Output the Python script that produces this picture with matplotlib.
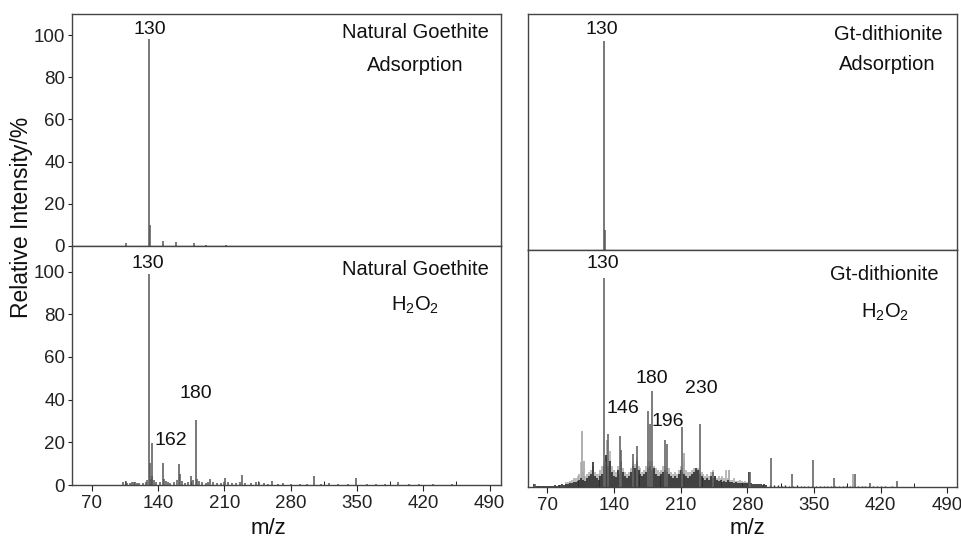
import numpy as np
import matplotlib
matplotlib.use("Agg")
import matplotlib.pyplot as plt
from matplotlib.ticker import MultipleLocator

plt.rcParams['font.family'] = ['Liberation Sans', 'DejaVu Sans']
plt.rcParams['mathtext.default'] = 'regular'

# ---- Natural Goethite, adsorption ----
ng_ads_mz = [106, 130, 131, 145, 159, 178, 191, 212]
ng_ads_int = [1.5, 98, 10, 2.5, 1.8, 1.2, 0.6, 0.5]

# ---- Natural Goethite, H2O2 ----
ng_h2o2_mz = [103, 106, 107, 110, 112, 114, 116, 118, 120, 124,
              127, 128, 130, 131, 132, 133, 134, 136, 138, 142,
              145, 146, 148, 150, 153, 157, 160, 162, 163, 165,
              168, 172, 175, 177, 180, 181, 183, 186, 190, 193,
              195, 198, 202, 206, 209, 211, 214, 218, 222, 226,
              229, 232, 238, 243, 246, 252, 256, 260, 266, 272,
              280, 290, 297, 305, 312, 320, 330, 340, 349, 360,
              370, 380, 393, 405, 415, 430, 450]
ng_h2o2_int = [1.2, 2.0, 1.0, 0.8, 1.5, 1.2, 1.5, 1.0, 0.8, 0.8,
               1.5, 2.5, 99, 10.5, 3.0, 19.5, 4.0, 2.5, 1.2, 1.5,
               10.5, 3.0, 2.0, 1.5, 1.0, 1.5, 2.5, 10.0, 5.0, 2.0,
               1.0, 1.5, 4.0, 2.5, 30.5, 3.0, 2.0, 1.5, 1.0, 1.5,
               3.0, 1.5, 1.0, 1.0, 1.2, 3.5, 1.5, 1.0, 1.0, 1.5,
               4.5, 1.0, 0.8, 1.5, 1.5, 0.8, 0.6, 2.0, 0.6, 0.8,
               0.6, 0.6, 0.5, 4.0, 0.5, 0.8, 0.5, 0.4, 3.5, 0.5,
               0.4, 0.5, 1.5, 0.4, 0.3, 0.4, 0.3]

# ---- Gt-dithionite, adsorption ----
gd_ads_mz = [130, 131]
gd_ads_int = [99, 9.5]

# ---- Gt-dithionite, H2O2 ----
gd_peak_mz = [57, 130, 131, 134, 146, 148, 160, 164, 176, 178, 180,
              194, 196, 212, 230, 244, 283, 305, 327, 349, 371, 393, 409, 437]
gd_peak_int = [1.3, 98, 12, 25, 24, 17.5, 15.5, 19, 35.5, 29.5, 45,
               22, 20, 28, 29.5, 7, 7, 13.5, 6, 12.5, 4, 6, 2, 3]

gd_light_mz = [107, 109, 133, 214, 261, 391]
gd_light_int = [26, 12, 22, 16, 8, 6]

# dense low-intensity background (dark trace), m/z 56..300 every 2
gd_dark_grid = np.arange(56, 301, 2)
gd_dark_int = [1.3, 0.3, 0.4, 0.3, 0.4, 0.5, 0.4, 0.6, 0.5, 0.6,
               0.6, 0.8, 0.7, 0.9, 1.0, 1.2, 1.0, 1.5, 1.3, 2.0,
               1.8, 2.5, 2.2, 3.0, 3.5, 4.0, 3.5, 3.0, 4.0, 5.0,
               6.0, 11.5, 5.0, 4.0, 3.5, 5.0, 6.0, 9.5, 15.0, 10.0,
               12.0, 7.0, 5.0, 4.5, 8.0, 6.0, 12.0, 7.0, 5.0, 4.0,
               5.0, 7.0, 10.0, 9.0, 12.0, 8.0, 6.0, 5.0, 6.0, 7.0,
               9.0, 10.0, 8.0, 9.0, 6.0, 5.0, 5.0, 6.0, 7.0, 8.0,
               7.0, 6.0, 5.0, 4.0, 5.0, 4.0, 6.0, 8.0, 7.0, 6.0,
               5.0, 4.0, 5.0, 6.0, 7.0, 9.0, 8.0, 6.0, 5.0, 4.0,
               3.5, 4.0, 3.5, 5.0, 4.0, 5.0, 3.5, 3.0, 3.5, 2.5,
               3.0, 2.5, 3.5, 2.5, 2.5, 2.0, 2.5, 1.8, 2.0, 1.8,
               1.8, 2.0, 1.8, 7.0, 2.0, 1.5, 1.2, 1.5, 1.2, 1.2,
               1.0, 1.2, 1.0]

# tail of the background, m/z 304..440 every 4
gd_tail_grid = np.arange(304, 441, 4)
gd_tail_int = [1.0, 0.8, 0.9, 0.7, 0.8, 0.6, 0.7, 0.8, 0.6, 0.5,
               0.7, 0.5, 0.6, 0.5, 0.6, 0.5, 0.4, 0.5, 0.6, 0.4,
               0.5, 0.4, 0.3, 0.4, 0.3, 0.4, 0.3, 0.3, 0.4, 0.3,
               0.3, 0.2, 0.3, 0.2, 0.2]

# light grey trace, m/z 90..280 every 2
gd_light_grid = np.arange(90, 281, 2)
gd_light_grass = [2.5, 2.5, 3.0, 3.5, 4.0, 4.0, 5.0, 6.0, 11.5, 7.0,
                  5.0, 6.0, 7.0, 8.0, 10.0, 7.0, 6.0, 6.0, 8.0, 10.0,
                  11.0, 14.0, 13.0, 17.0, 10.0, 8.0, 7.0, 10.0, 9.0, 12.0,
                  9.0, 7.0, 6.0, 7.0, 9.0, 12.0, 11.0, 14.0, 10.0, 9.0,
                  7.0, 8.0, 10.0, 12.0, 12.0, 12.0, 10.0, 9.0, 8.0, 7.0,
                  8.0, 10.0, 10.0, 9.0, 9.0, 7.0, 6.0, 7.0, 6.0, 8.0,
                  10.0, 9.0, 12.0, 8.0, 7.0, 7.0, 8.0, 9.0, 8.0, 9.0,
                  8.0, 7.0, 6.0, 5.0, 6.0, 5.0, 7.0, 8.0, 5.0, 4.0,
                  5.0, 4.0, 5.0, 4.0, 8.0, 4.0, 3.5, 3.5, 4.0, 3.0,
                  3.0, 3.5, 3.0, 2.5, 3.0, 2.5]

x_ticks = [70, 140, 210, 280, 350, 420, 490]

fig = plt.figure(figsize=(9.62, 5.38), dpi=100)
W, H = 962.0, 538.0

def box(x0, y0, x1, y1):
    return [x0 / W, 1 - y1 / H, (x1 - x0) / W, (y1 - y0) / H]

ax_lu = fig.add_axes(box(72, 14, 501, 246))
ax_ll = fig.add_axes(box(72, 246, 501, 485))
ax_ru = fig.add_axes(box(528, 14, 957, 250))
ax_rl = fig.add_axes(box(528, 250, 957, 487))

main_c = '#555555'
peak_c = '#666666'
dark_c = '#2a2a2a'
light_c = '#a8a8a8'
frame_c = '#444444'

ax_lu.vlines(ng_ads_mz, 0, ng_ads_int, color=main_c, lw=1.1)
ax_ll.vlines(ng_h2o2_mz, 0, ng_h2o2_int, color=main_c, lw=1.1)
ax_ru.vlines(gd_ads_mz, 0, gd_ads_int, color=main_c, lw=1.1)

ax_rl.vlines(gd_light_grid, 0, gd_light_grass, color=light_c, lw=1.1)
ax_rl.vlines(gd_light_mz, 0, gd_light_int, color=light_c, lw=1.3)
ax_rl.vlines(gd_dark_grid, 0, gd_dark_int, color=dark_c, lw=1.2)
ax_rl.vlines(gd_tail_grid, 0, gd_tail_int, color=dark_c, lw=1.0)
ax_rl.vlines(gd_peak_mz, 0, gd_peak_int, color=peak_c, lw=1.2)

ax_lu.set_xlim(49, 502)
ax_ll.set_xlim(49, 502)
ax_ru.set_xlim(50, 500)
ax_rl.set_xlim(50, 500)
ax_lu.set_ylim(0, 110)
ax_ll.set_ylim(0, 112)
ax_ru.set_ylim(0, 112)
ax_rl.set_ylim(0, 111)

fs = 13.5
for ax in (ax_lu, ax_ll, ax_ru, ax_rl):
    for s in ax.spines.values():
        s.set_color(frame_c)
        s.set_linewidth(1.0)
    ax.tick_params(labelsize=fs, colors='#222222', length=3, width=0.8)

for ax in (ax_lu, ax_ru):
    ax.set_xticks([])
for ax in (ax_ru, ax_rl):
    ax.set_yticks([])
for ax in (ax_lu, ax_ll):
    ax.set_yticks([0, 20, 40, 60, 80, 100])
    ax.tick_params(axis='y', direction='out', pad=2)
for ax in (ax_ll, ax_rl):
    ax.set_xticks(x_ticks)
    ax.xaxis.set_minor_locator(MultipleLocator(35))
    ax.tick_params(axis='x', which='major', direction='out', length=4, pad=3)
    ax.tick_params(axis='x', which='minor', direction='in', length=3)

# peak labels
lab = dict(fontsize=14, ha='center', va='center', color='#111111')
ax_lu.text(131, 102.5, '130', **lab)
ax_ll.text(129, 104, '130', **lab)
ax_ll.text(179.5, 43, '180', **lab)
ax_ll.text(153, 21, '162', **lab)
ax_ru.text(127.7, 104.7, '130', **lab)
ax_rl.text(128.8, 104.7, '130', **lab)
ax_rl.text(180, 51, '180', **lab)
ax_rl.text(149.7, 36.8, '146', **lab)
ax_rl.text(197, 30.7, '196', **lab)
ax_rl.text(231.6, 46, '230', **lab)

# panel titles
tl = dict(fontsize=14.5, ha='center', va='center', color='#111111')
ax_lu.text(0.80, 0.922, 'Natural Goethite', transform=ax_lu.transAxes, **tl)
ax_lu.text(0.80, 0.78, 'Adsorption', transform=ax_lu.transAxes, **tl)
ax_ll.text(0.80, 0.90, 'Natural Goethite', transform=ax_ll.transAxes, **tl)
ax_ll.text(0.80, 0.75, 'H$_2$O$_2$', transform=ax_ll.transAxes, **tl)
ax_ru.text(0.839, 0.915, 'Gt-dithionite', transform=ax_ru.transAxes, **tl)
ax_ru.text(0.837, 0.784, 'Adsorption', transform=ax_ru.transAxes, **tl)
ax_rl.text(0.83, 0.895, 'Gt-dithionite', transform=ax_rl.transAxes, **tl)
ax_rl.text(0.832, 0.735, 'H$_2$O$_2$', transform=ax_rl.transAxes, **tl)

fig.text(22 / W, 1 - 217 / H, 'Relative Intensity/%', rotation=90,
         ha='center', va='center', fontsize=16.5, color='#111111')
fig.text(268 / W, 1 - 528 / H, 'm/z', ha='center', va='center', fontsize=16, color='#111111')
fig.text(747 / W, 1 - 528 / H, 'm/z', ha='center', va='center', fontsize=16, color='#111111')

fig.savefig('out.png', dpi=100)
